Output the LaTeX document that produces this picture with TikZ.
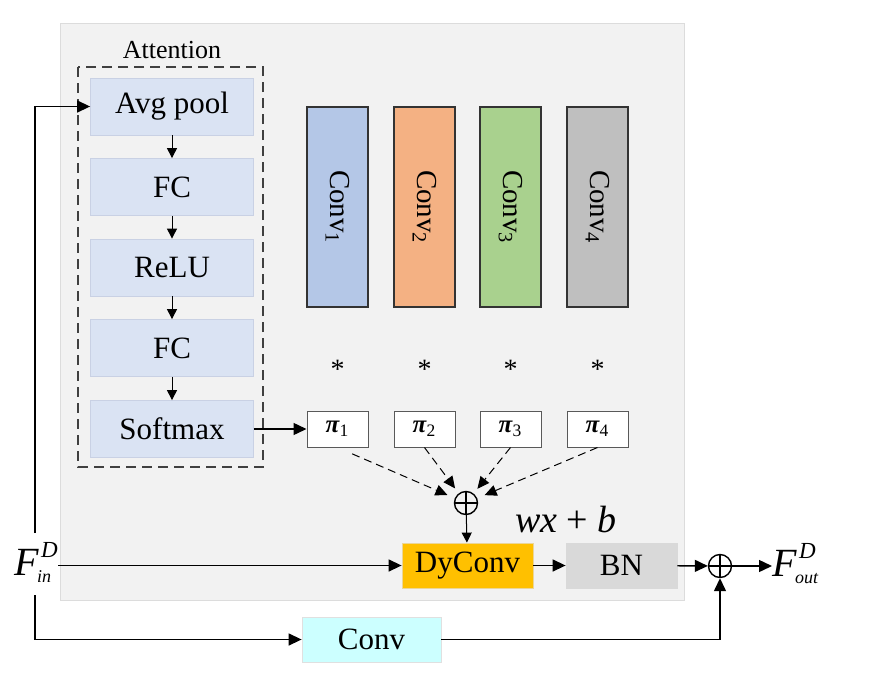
\documentclass[tikz,border=0pt]{standalone}
\usepackage{fontspec}
\setmainfont{Liberation Serif}
\usetikzlibrary{arrows.meta}
\definecolor{panel}{HTML}{F2F2F2}
\definecolor{panelline}{HTML}{DCDCDC}
\definecolor{attfill}{HTML}{DAE3F3}
\definecolor{attline}{HTML}{C9D1E4}
\definecolor{convA}{HTML}{B4C7E7}
\definecolor{convB}{HTML}{F4B183}
\definecolor{convC}{HTML}{A9D18E}
\definecolor{convD}{HTML}{BFBFBF}
\definecolor{dyfill}{HTML}{FFC000}
\definecolor{bnfill}{HTML}{D9D9D9}
\definecolor{skipfill}{HTML}{CCFFFF}
\newcommand{\feat}[1]{\textit{F}\kern-1pt\rlap{\raisebox{-3.5pt}{\fontsize{9}{10}\selectfont\itshape #1}}\kern2pt\raisebox{9pt}{\fontsize{11.5}{12}\selectfont\itshape D}}
\newcommand{\weight}[1]{\textbf{\textit{π}}\textsubscript{#1}}
\newcommand{\bigfont}{\fontsize{15.5}{18}\selectfont}

\begin{document}
\begin{tikzpicture}[x=0.5pt, y=-0.5pt,
    attbox/.style={draw=attline, fill=attfill, minimum width=81.5pt, minimum height=28.5pt, inner sep=0, font=\bigfont},
    kernel/.style={draw=black!80, line width=0.8pt, minimum width=100pt, minimum height=30.5pt, inner sep=0, rotate=-90, font=\fontsize{14.5}{17}\selectfont},
    wbox/.style={draw=black!65, fill=white, line width=0.5pt, minimum width=30.5pt, minimum height=18pt, inner sep=0, font=\fontsize{12.5}{14}\selectfont},
    block/.style={minimum height=22.5pt, inner sep=0, font=\bigfont},
    oplus/.style={circle, draw, line width=0.7pt, minimum size=11.5pt, inner sep=0,
      path picture={\draw[line width=0.6pt] (path picture bounding box.north) -- (path picture bounding box.south)
        (path picture bounding box.west) -- (path picture bounding box.east);}},
    flow/.style={-{Triangle[length=6.5pt,width=6pt]}, line width=0.7pt},
    tinyflow/.style={-{Triangle[length=5pt,width=5pt]}, line width=0.5pt},
    weighflow/.style={-{Triangle[length=6pt,width=5.5pt]}, dashed, dash pattern=on 4pt off 2.5pt, line width=0.5pt}]
  \useasboundingbox (0,0) rectangle (880,697);

  % grey panel
  \draw[panelline, fill=panel] (60,23) rectangle (684,600);

  % attention branch
  \node[font=\fontsize{13}{15}\selectfont] (attlabel) at (172,50) {Attention};
  \draw[black!75, line width=0.75pt, dash pattern=on 5pt off 3pt] (78,67) rectangle (263,467);
  \node[attbox] (avg) at (172,106.5) {Avg pool};
  \node[attbox] (fc1) at (172,187) {FC};
  \node[attbox] (relu) at (172,267.5) {ReLU};
  \node[attbox] (fc2) at (172,348) {FC};
  \node[attbox] (soft) at (172,429) {Softmax};
  \draw[tinyflow] (avg) -- (fc1);
  \draw[tinyflow] (fc1) -- (relu);
  \draw[tinyflow] (relu) -- (fc2);
  \draw[tinyflow] (fc2) -- (soft);

  % kernels, stars and weights
  \foreach \i/\x/\c in {1/337.5/convA, 2/424.5/convB, 3/510.5/convC, 4/597.5/convD} {
    \node[kernel, fill=\c] (conv\i) at (\x,207) {Conv\textsubscript{\i}};
    \node[font=\fontsize{14}{16}\selectfont] (star\i) at (\x,369) {*};
    \node[wbox] (pi\i) at (\x,429) {\weight{\i}};
  }
  \draw[flow] (soft) -- (pi1);

  % aggregation
  \node[oplus] (sum) at (466,503) {};
  \draw[weighflow, shorten <=8pt, shorten >=4pt] (pi1.south) -- (sum);
  \draw[weighflow, shorten >=3pt] (pi2.south) -- (sum);
  \draw[weighflow, shorten >=3pt] (pi3.south) -- (sum);
  \draw[weighflow, shorten >=4pt] (pi4.south) -- (sum);
  \node[font=\fontsize{19}{22}\selectfont] (affine) at (566,519) {\textit{wx} + \textit{b}};

  % main path
  \node[block, fill=dyfill, draw=dyfill!80!black!40, minimum width=65.5pt] (dyconv) at (467.5,565.5) {DyConv};
  \node[block, fill=bnfill, draw=black!15, minimum width=55.5pt] (bn) at (621.5,565.5) {BN};
  \node[oplus] (add) at (720,566) {};
  \node[font=\fontsize{20}{22}\selectfont, inner sep=0, anchor=base west] (fin) at (14,575) {\feat{in}};
  \node[font=\fontsize{20}{22}\selectfont, inner sep=0, anchor=base west] (fout) at (772,576) {\feat{out}};
  \draw[tinyflow] (sum) -- (dyconv);
  \draw[flow] (fin.east |- dyconv.west) -- (dyconv);
  \draw[flow] (dyconv) -- (bn);
  \draw[flow] (bn) -- (add);
  \draw[flow] (add) -- (fout.west |- add.east);

  % input taps
  \coordinate (tapup) at (35,533);
  \coordinate (tapdown) at (35,595);
  \draw[flow] (tapup) |- (avg.west);

  % skip branch
  \node[block, fill=skipfill, draw=black!12, minimum width=69.5pt] (skip) at (371.5,639.5) {Conv};
  \draw[flow] (tapdown) |- (skip.west);
  \draw[flow] (skip.east) -| (add.south);
\end{tikzpicture}
\end{document}
